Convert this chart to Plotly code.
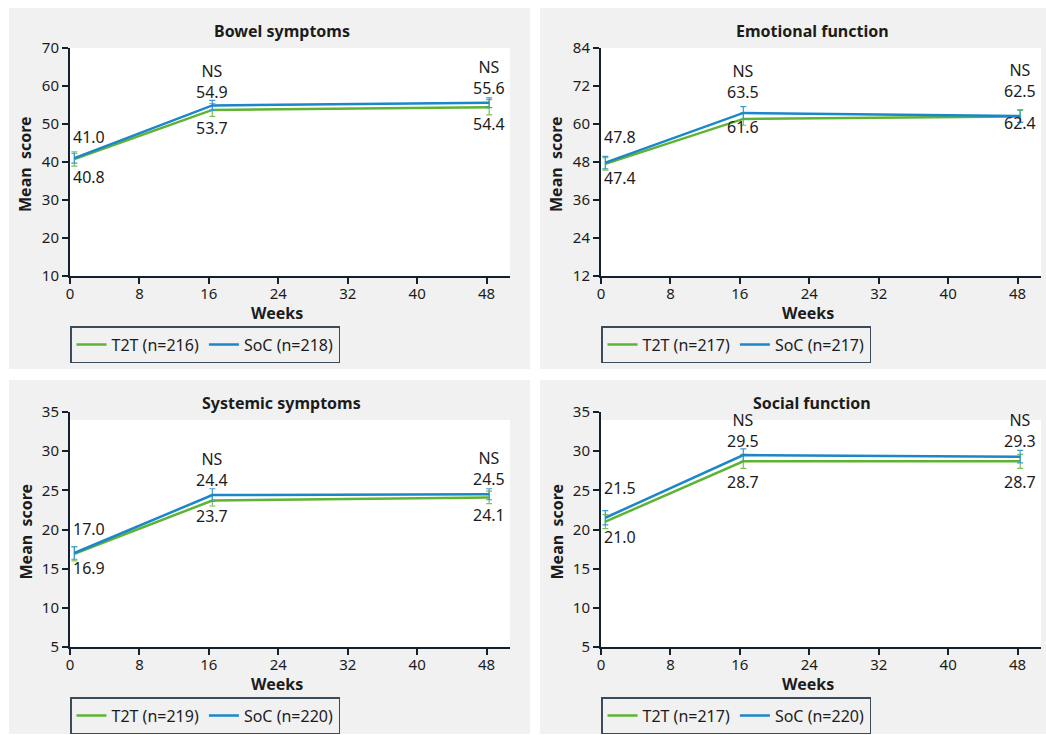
import plotly.graph_objects as go

# ---------------- data ----------------
weeks = [0.5, 16.4, 48.3]
x_ticks = [0, 8, 16, 24, 32, 40, 48]

titles = ["Bowel symptoms", "Emotional function", "Systemic symptoms", "Social function"]

t2t_bowel = [40.8, 53.7, 54.4]
soc_bowel = [41.0, 54.9, 55.6]
t2t_emot = [47.4, 61.6, 62.4]
soc_emot = [47.8, 63.5, 62.5]
t2t_syst = [16.9, 23.7, 24.1]
soc_syst = [17.0, 24.4, 24.5]
t2t_social = [21.0, 28.7, 28.7]
soc_social = [21.5, 29.5, 29.3]

t2t_bowel_err = [1.9, 1.7, 2.0]
soc_bowel_err = [1.3, 1.3, 1.3]
t2t_emot_err = [2.0, 2.0, 1.9]
soc_emot_err = [2.0, 2.0, 2.0]
t2t_syst_err = [0.9, 0.7, 0.8]
soc_syst_err = [0.8, 0.8, 0.7]
t2t_social_err = [0.9, 0.9, 0.9]
soc_social_err = [0.9, 0.8, 0.8]

n_t2t = [216, 217, 219, 217]
n_soc = [218, 217, 220, 220]

bowel_yticks = [10, 20, 30, 40, 50, 60, 70]
emot_yticks = [12, 24, 36, 48, 60, 72, 84]
syst_yticks = [5, 10, 15, 20, 25, 30, 35]
social_yticks = [5, 10, 15, 20, 25, 30, 35]

significance = ["", "NS", "NS"]

# ---------------- style / geometry ----------------
W, H = 1046, 735
GREEN = "#5fb332"
BLUE = "#1b86c9"
GREEN_ERR = "#7cc455"
BLUE_ERR = "#3c9bd4"
AXIS = "#13212f"
TXT = "#1c1c1c"
PANEL = "#f1f1f1"
FONT = "Noto Sans"

panels = [
    dict(t2t=t2t_bowel, soc=soc_bowel, t2t_e=t2t_bowel_err, soc_e=soc_bowel_err, yt=bowel_yticks,
         box=(9, 8, 530, 369), plot=(70, 48, 510, 276), white_top=48, title_x=282,
         off=dict(up=[21, 14, 15], down=[18, 18, 17])),
    dict(t2t=t2t_emot, soc=soc_emot, t2t_e=t2t_emot_err, soc_e=soc_emot_err, yt=emot_yticks,
         box=(540, 8, 1046, 369), plot=(601, 48, 1041, 276), white_top=48, title_x=812,
         off=dict(up=[26, 21, 26], down=[14, 8, 7])),
    dict(t2t=t2t_syst, soc=soc_syst, t2t_e=t2t_syst_err, soc_e=soc_syst_err, yt=syst_yticks,
         box=(9, 380, 530, 734), plot=(70, 412, 510, 647), white_top=420, title_x=281,
         off=dict(up=[24, 16, 16], down=[14, 15, 18])),
    dict(t2t=t2t_social, soc=soc_social, t2t_e=t2t_social_err, soc_e=soc_social_err, yt=social_yticks,
         box=(540, 380, 1046, 734), plot=(601, 412, 1041, 647), white_top=420, title_x=812,
         off=dict(up=[30, 15, 16], down=[15, 21, 21])),
]


def px(x):
    return x / W


def py(y):
    return 1 - y / H


fig = go.Figure()
shapes = []
annotations = []

for i, p in enumerate(panels):
    k = i + 1
    xa = "x" if k == 1 else f"x{k}"
    ya = "y" if k == 1 else f"y{k}"
    lg = "legend" if k == 1 else f"legend{k}"
    bx0, by0, bx1, by1 = p["box"]
    x0, y0, x1, y1 = p["plot"]

    shapes.append(dict(type="rect", xref="paper", yref="paper", x0=px(bx0), x1=px(bx1),
                       y0=py(by1), y1=py(by0), fillcolor=PANEL, line=dict(width=0), layer="below"))
    shapes.append(dict(type="rect", xref="paper", yref="paper", x0=px(x0), x1=px(x1),
                       y0=py(y1), y1=py(p["white_top"]), fillcolor="white", line=dict(width=0),
                       layer="below"))

    fig.add_trace(go.Scatter(
        x=weeks, y=p["t2t"], mode="lines", name=f"T2T (n={n_t2t[i]})",
        line=dict(color=GREEN, width=2.5), xaxis=xa, yaxis=ya, legend=lg,
        error_y=dict(type="data", array=p["t2t_e"], color=GREEN_ERR, thickness=1.2, width=3),
        hoverinfo="skip"))
    fig.add_trace(go.Scatter(
        x=weeks, y=p["soc"], mode="lines", name=f"SoC (n={n_soc[i]})",
        line=dict(color=BLUE, width=2.5), xaxis=xa, yaxis=ya, legend=lg,
        error_y=dict(type="data", array=p["soc_e"], color=BLUE_ERR, thickness=1.2, width=3),
        hoverinfo="skip"))

    yt = p["yt"]
    axis_common = dict(showline=True, linecolor=AXIS, linewidth=2, ticks="outside",
                       tickcolor=AXIS, tickwidth=1.5, ticklen=6, showgrid=False, zeroline=False,
                       automargin=False,
                       tickfont=dict(family=FONT, size=15, color=TXT), fixedrange=True)
    fig.layout[("xaxis" if k == 1 else f"xaxis{k}")] = dict(
        domain=[px(x0), px(x1)], anchor=ya, range=[0, 50.7], tickvals=x_ticks,
        ticktext=[str(t) for t in x_ticks], ticklabelstandoff=-3, **axis_common)
    fig.layout[("yaxis" if k == 1 else f"yaxis{k}")] = dict(
        domain=[py(y1), py(y0)], anchor=xa, range=[yt[0], yt[-1]], tickvals=yt,
        ticktext=[str(t) for t in yt], **axis_common)

    # titles
    annotations.append(dict(text=f"<b>{titles[i]}</b>", xref="paper", yref="paper",
                            x=px(p["title_x"]), y=py(by0 + 23), xanchor="center", yanchor="middle",
                            showarrow=False, font=dict(family=FONT, size=16, color=TXT)))
    annotations.append(dict(text="<b>Weeks</b>", xref="paper", yref="paper",
                            x=px((x0 + x1) / 2 - 13), y=py(y1 + 37), xanchor="center", yanchor="middle",
                            showarrow=False, font=dict(family=FONT, size=16, color=TXT)))
    annotations.append(dict(text="<b>Mean  score</b>", xref="paper", yref="paper",
                            x=px(bx0 + 16), y=py((y0 + y1) / 2 + 2), xanchor="center", yanchor="middle",
                            textangle=-90, showarrow=False, font=dict(family=FONT, size=16, color=TXT)))

    # value labels (SoC above with significance, T2T below)
    off = p["off"]
    for j, w in enumerate(weeks):
        anchor = "left" if j == 0 else "center"
        xs = -3 if j == 0 else 0
        if significance[j]:
            top_text = f"{significance[j]}<br>{p['soc'][j]:.1f}"
            top_shift = off["up"][j] + 10
        else:
            top_text = f"{p['soc'][j]:.1f}"
            top_shift = off["up"][j]
        annotations.append(dict(text=top_text, xref=xa, yref=ya, x=w, y=p["soc"][j],
                                yshift=top_shift, xshift=xs, xanchor=anchor, yanchor="middle",
                                align="center", showarrow=False,
                                font=dict(family=FONT, size=16, color=TXT)))
        annotations.append(dict(text=f"{p['t2t'][j]:.1f}", xref=xa, yref=ya, x=w, y=p["t2t"][j],
                                yshift=-off["down"][j], xshift=xs, xanchor=anchor, yanchor="middle",
                                showarrow=False, font=dict(family=FONT, size=16, color=TXT)))

    fig.layout[lg] = dict(x=px(x0), y=py(y1 + 50), xanchor="left", yanchor="top",
                          orientation="h", bgcolor="rgba(0,0,0,0)", bordercolor="#3b4b5b",
                          borderwidth=1.5, font=dict(family=FONT, size=16, color=TXT),
                          itemwidth=30, tracegroupgap=0)

fig.update_layout(
    width=W, height=H, margin=dict(l=0, r=0, t=0, b=0, pad=0, autoexpand=False),
    paper_bgcolor="white", plot_bgcolor="rgba(0,0,0,0)",
    shapes=shapes, annotations=annotations, showlegend=True,
    font=dict(family=FONT, color=TXT),
)

fig.write_html("out.html", config={"displayModeBar": False})
with open("out.html", "r", encoding="utf-8") as f:
    html = f.read()
html = html.replace("<head>", "<head><style>html,body{margin:0;padding:0;overflow:hidden;}</style>", 1)
with open("out.html", "w", encoding="utf-8") as f:
    f.write(html)
